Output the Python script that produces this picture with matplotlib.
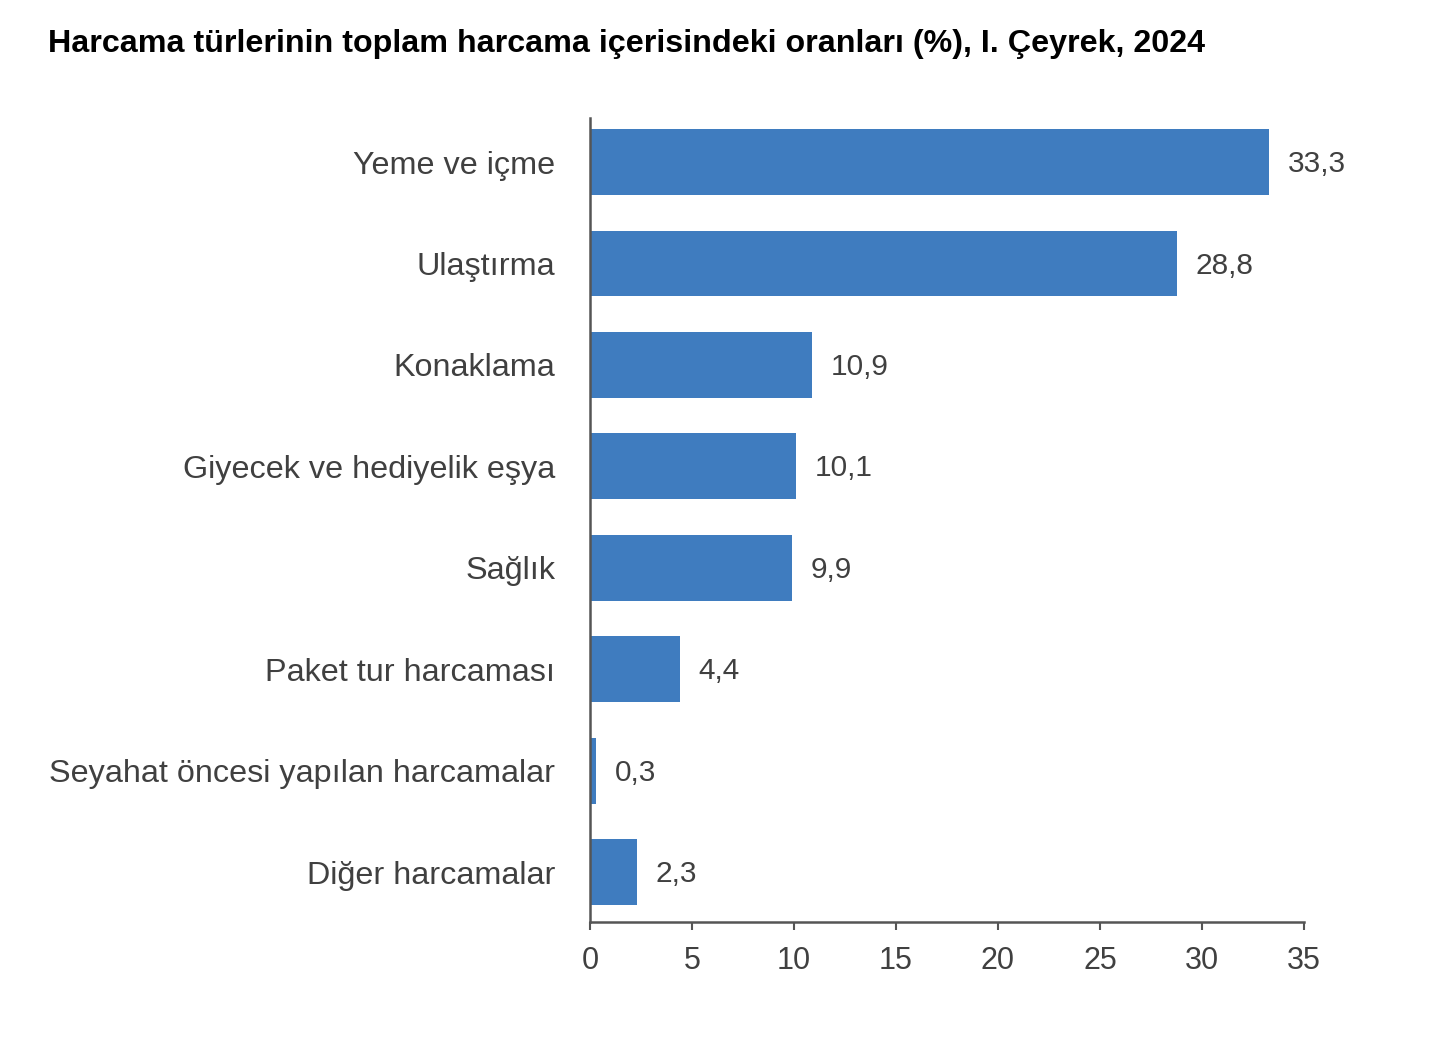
import matplotlib.pyplot as plt

plt.rcParams['font.family'] = ['Liberation Sans', 'DejaVu Sans']

categories = ['Yeme ve içme', 'Ulaştırma', 'Konaklama', 'Giyecek ve hediyelik eşya',
              'Sağlık', 'Paket tur harcaması', 'Seyahat öncesi yapılan harcamalar',
              'Diğer harcamalar']
values = [33.3, 28.8, 10.9, 10.1, 9.9, 4.4, 0.3, 2.3]
value_labels = ['33,3', '28,8', '10,9', '10,1', '9,9', '4,4', '0,3', '2,3']
xticks = [0, 5, 10, 15, 20, 25, 30, 35]

fig = plt.figure(figsize=(14.34, 10.4), dpi=100)
ax = fig.add_axes([0.4114, 0.1135, 0.4979, 0.773])

y = list(range(len(categories)))
ax.barh(y, values, height=0.65, color='#3F7CBF', zorder=2)

# value labels just right of each bar
for yi, v, lab in zip(y, values, value_labels):
    ax.text(v + 0.9, yi + 0.02, lab, va='center', ha='left', fontsize=21.5, color='#404040')

ax.set_xlim(0, 35)
ax.set_ylim(7.49, -0.434)
ax.set_xticks(xticks)
ax.set_xticklabels([str(t) for t in xticks], fontsize=22, color='#404040')
ax.set_yticks(y)
ax.set_yticklabels(categories, fontsize=23.3, color='#404040')
ax.tick_params(axis='y', length=0, pad=25)
ax.tick_params(axis='x', length=6, width=1.5, color='#555555', pad=11, direction='out')

for s in ['top', 'right']:
    ax.spines[s].set_visible(False)
for s in ['left', 'bottom']:
    ax.spines[s].set_color('#555555')
    ax.spines[s].set_linewidth(1.8)

fig.text(48 / 1434, 1 - 44 / 1040, 'Harcama türlerinin toplam harcama içerisindeki oranları (%), I. Çeyrek, 2024',
         fontsize=23.2, fontweight='bold', color='black', va='center', ha='left')

fig.savefig('out.png', dpi=100, facecolor='white')
